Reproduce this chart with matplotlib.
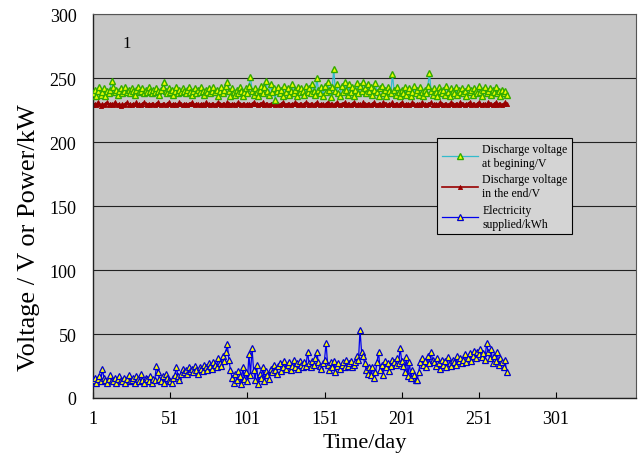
import matplotlib
matplotlib.use("Agg")
import matplotlib.pyplot as plt
import numpy as np

plt.rcParams['font.family'] = ['Liberation Serif', 'DejaVu Serif']

days = list(range(1, 270))

electricity = [
    14, 16, 12, 15, 17, 13, 23, 16, 14, 12, 15, 18, 14, 13, 16, 12, 15, 17, 14, 13,
    16, 12, 15, 18, 13, 14, 16, 12, 17, 15, 13, 19, 14, 12, 16, 15, 13, 17, 12, 15,
    14, 25, 20, 15, 13, 17, 12, 19, 16, 14, 13, 12, 16, 18, 24, 17, 14, 19, 23, 20,
    22, 19, 24, 21, 23, 20, 25, 22, 19, 24, 23, 21, 26, 24, 22, 27, 25, 23, 28, 26,
    24, 31, 27, 25, 33, 29, 36, 42, 30, 22, 16, 12, 19, 14, 21, 17, 11, 24, 15, 20,
    13, 34, 18, 39, 22, 14, 26, 11, 19, 16, 24, 13, 21, 18, 15, 23, 20, 26, 22, 19,
    25, 27, 21, 24, 29, 23, 26, 28, 22, 25, 30, 24, 27, 23, 29, 26, 24, 28, 25, 36,
    27, 24, 29, 26, 31, 36, 28, 25, 23, 27, 30, 43, 26, 22, 28, 24, 29, 20, 25, 27,
    23, 26, 28, 24, 30, 25, 27, 29, 24, 26, 28, 33, 30, 53, 36, 33, 27, 22, 19, 24,
    18, 24, 16, 20, 28, 36, 22, 26, 18, 29, 24, 27, 21, 25, 30, 28, 26, 31, 27, 39,
    29, 25, 20, 32, 17, 28, 16, 22, 18, 14, 14, 20, 28, 31, 26, 29, 24, 33, 27, 36,
    30, 28, 25, 31, 27, 23, 30, 26, 29, 24, 32, 27, 25, 30, 28, 26, 33, 29, 31, 27,
    30, 34, 28, 31, 35, 29, 33, 37, 31, 36, 34, 38, 32, 35, 30, 43, 36, 31, 38, 27,
    33, 29, 36, 26, 31, 28, 24, 30, 20,
]

v_begin = [
    238, 241, 236, 240, 243, 237, 239, 242, 236, 240, 238, 241, 248, 243, 239, 241, 237, 240, 242, 238,
    240, 243, 239, 241, 238, 242, 240, 237, 241, 243, 239, 240, 242, 238, 241, 239, 243, 240, 238, 241,
    239, 242, 240, 237, 241, 243, 247, 240, 238, 242, 239, 241, 237, 240, 243, 238, 241, 239, 242, 240,
    238, 241, 243, 239, 237, 240, 242, 238, 241, 239, 243, 240, 237, 241, 239, 242, 238, 240, 243, 239,
    241, 236, 240, 243, 238, 241, 244, 247, 240, 236, 242, 239, 237, 241, 238, 243, 240, 236, 239, 242,
    238, 244, 251, 240, 237, 242, 239, 236, 241, 244, 238, 243, 248, 240, 237, 245, 239, 242, 233, 240,
    243, 238, 241, 236, 244, 239, 242, 237, 240, 245, 238, 241, 236, 243, 239, 242, 240, 237, 244, 239,
    242, 238, 245, 240, 237, 250, 241, 238, 243, 236, 244, 239, 247, 241, 235, 243, 257, 240, 245, 238,
    236, 244, 239, 247, 241, 237, 245, 239, 243, 236, 241, 246, 238, 244, 240, 247, 242, 238, 245, 240,
    243, 237, 241, 246, 239, 236, 242, 244, 238, 241, 236, 243, 240, 238, 253, 241, 237, 243, 239, 236,
    241, 238, 243, 237, 240, 242, 236, 239, 244, 238, 241, 237, 243, 239, 236, 241, 238, 244, 254, 240,
    237, 242, 239, 236, 243, 240, 238, 241, 237, 244, 239, 236, 242, 240, 238, 243, 237, 241, 239, 242,
    238, 240, 236, 243, 239, 241, 237, 242, 240, 238, 244, 239, 236, 241, 243, 238, 240, 242, 237, 241,
    239, 243, 238, 240, 236, 241, 238, 240, 237,
]

v_end = [
    229, 230, 229, 231, 230, 228, 230, 229, 230, 231, 229, 230, 230, 229, 231, 230, 229, 230, 228, 230,
    229, 230, 231, 229, 230, 229, 230, 230, 231, 229, 230, 229, 230, 231, 230, 229, 230, 229, 230, 230,
    229, 230, 231, 230, 229, 230, 230, 229, 230, 231, 230, 229, 230, 230, 229, 230, 231, 230, 229, 230,
    230, 229, 230, 230, 231, 230, 229, 230, 230, 229, 230, 230, 229, 231, 230, 230, 229, 230, 230, 229,
    230, 231, 230, 229, 230, 230, 229, 231, 230, 229, 230, 230, 229, 230, 231, 230, 229, 230, 230, 229,
    230, 230, 229, 230, 231, 230, 230, 229, 230, 230, 231, 229, 230, 230, 229, 230, 230, 231, 229, 230,
    230, 229, 230, 231, 230, 229, 230, 230, 229, 230, 230, 231, 230, 229, 230, 230, 229, 230, 231, 230,
    229, 230, 230, 229, 230, 231, 230, 229, 230, 230, 229, 230, 231, 229, 230, 230, 229, 230, 231, 230,
    229, 230, 230, 231, 229, 230, 230, 229, 230, 231, 230, 229, 230, 230, 229, 231, 230, 229, 230, 230,
    229, 230, 231, 230, 229, 230, 230, 229, 231, 230, 230, 229, 230, 230, 231, 229, 230, 230, 229, 230,
    231, 230, 229, 230, 230, 229, 230, 231, 230, 229, 230, 230, 229, 231, 230, 230, 229, 230, 230, 231,
    229, 230, 230, 229, 230, 231, 230, 229, 230, 230, 229, 230, 231, 230, 229, 230, 230, 229, 231, 230,
    230, 229, 230, 230, 231, 229, 230, 230, 229, 230, 231, 230, 229, 230, 230, 229, 231, 230, 230, 229,
    230, 231, 229, 230, 230, 229, 230, 231, 230,
]

x_ticks = [1, 51, 101, 151, 201, 251, 301]
y_ticks = [0, 50, 100, 150, 200, 250, 300]

fig = plt.figure(figsize=(6.42, 4.56), dpi=100)
ax = fig.add_axes([0.145, 0.125, 0.846, 0.842])
ax.set_facecolor('#C8C8C8')

ax.plot(days, v_begin, color='#33BBCC', lw=0.9, marker='^', ms=5,
        mfc='#EEFF00', mec='#33AA00', mew=1.0,
        label='Discharge voltage\nat begining/V', zorder=3)
ax.plot(days, v_end, color='#990000', lw=1.2, marker='^', ms=3,
        mfc='#990000', mec='#990000', mew=0.6,
        label='Discharge voltage\nin the end/V', zorder=2)
ax.plot(days, electricity, color='#0000EE', lw=0.9, marker='^', ms=5,
        mfc='#FFFF00', mec='#0000CC', mew=0.9,
        label='Electricity\nsupplied/kWh', zorder=3)

ax.set_xlim(1, 353)
ax.set_ylim(0, 300)
ax.set_xticks(x_ticks)
ax.set_yticks(y_ticks)
ax.tick_params(axis='x', direction='in', length=4, labelsize=13, pad=9, colors='black')
ax.tick_params(axis='y', length=0, labelsize=13, pad=12)
ax.yaxis.grid(True, color='#222222', lw=0.8)
ax.set_axisbelow(True)
for s in ['top', 'right']:
    ax.spines[s].set_color('#555555')
    ax.spines[s].set_linewidth(0.8)
for s in ['left', 'bottom']:
    ax.spines[s].set_color('#222222')
    ax.spines[s].set_linewidth(1.0)

ax.set_xlabel('Time/day', fontsize=16, labelpad=4)
ax.set_ylabel('Voltage / V or Power/kW', fontsize=19)
ax.yaxis.set_label_coords(-0.097, 0.42)

ax.text(0.055, 0.915, '1', transform=ax.transAxes, fontsize=12)

leg = ax.legend(loc='upper left', bbox_to_anchor=(0.634, 0.677), fontsize=8.5,
                frameon=True, fancybox=False, edgecolor='black',
                facecolor='#D4D4D4', framealpha=1, handlelength=3.0,
                labelspacing=0.4, borderpad=0.4, handletextpad=0.4,
                borderaxespad=0)
leg.get_frame().set_linewidth(0.8)

fig.savefig('out.png', dpi=100, facecolor='white')
